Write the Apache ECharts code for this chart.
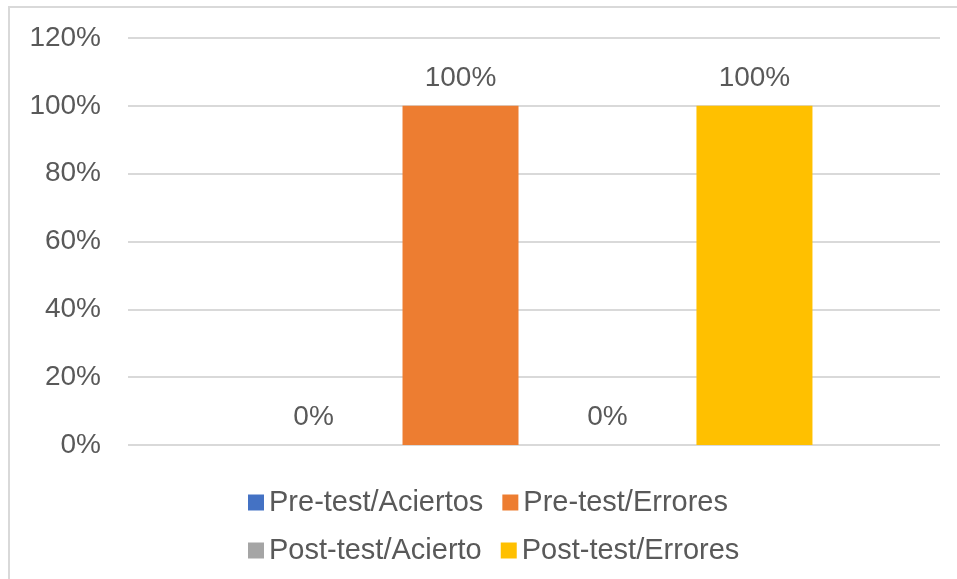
<!DOCTYPE html>
<html>
<head>
<meta charset="utf-8">
<script src="https://cdn.jsdelivr.net/npm/echarts@6/dist/echarts.min.js"></script>
<style>
  html, body { margin: 0; padding: 0; background: #fff; }
  #chart { width: 957px; height: 579px; }
</style>
</head>
<body>
<div id="chart"></div>
<script>
// One unnamed category, four series (percent of answers)
const categories = [''];
const seriesNames = ['Pre-test/Aciertos', 'Pre-test/Errores', 'Post-test/Acierto', 'Post-test/Errores'];
const seriesValues = [[0], [100], [0], [100]];
const seriesColors = ['#4472C4', '#ED7D31', '#A5A5A5', '#FFC000'];
const yTicks = { min: 0, max: 120, interval: 20 };

const textColor = '#595959';
const fontFamily = 'Liberation Sans, Arial, sans-serif';

const chart = echarts.init(document.getElementById('chart'), null, { renderer: 'canvas' });

chart.setOption({
  animation: false,
  backgroundColor: '#fff',
  textStyle: { fontFamily: fontFamily },
  grid: { left: 128, right: 17, top: 38, bottom: 134, containLabel: false },
  graphic: [{
    type: 'rect',
    shape: { x: 9, y: 7, width: 1200, height: 1200 },
    style: { fill: 'none', stroke: '#D9D9D9', lineWidth: 2 },
    silent: true
  }],
  legend: {
    data: seriesNames,
    left: 243,
    top: 483,
    width: 520,
    itemWidth: 16,
    itemHeight: 16,
    itemGap: 19,
    icon: 'rect',
    textStyle: { color: textColor, fontSize: 29, lineHeight: 29, fontFamily: fontFamily }
  },
  xAxis: {
    type: 'category',
    data: categories,
    axisLine: { show: false },
    axisTick: { show: false },
    axisLabel: { show: false }
  },
  yAxis: {
    type: 'value',
    min: yTicks.min,
    max: yTicks.max,
    interval: yTicks.interval,
    axisLine: { show: false },
    axisTick: { show: false },
    axisLabel: {
      formatter: '{value}%',
      color: textColor,
      fontSize: 28,
      margin: 27,
      fontFamily: fontFamily
    },
    splitLine: { lineStyle: { color: '#D9D9D9', width: 2 } }
  },
  series: seriesNames.map((name, i) => ({
    name: name,
    type: 'bar',
    data: seriesValues[i],
    barWidth: 116,
    barGap: '26.7%',
    itemStyle: { color: seriesColors[i] },
    label: {
      show: true,
      position: 'top',
      distance: 14,
      formatter: '{c}%',
      color: textColor,
      fontSize: 28,
      fontFamily: fontFamily
    }
  }))
});
</script>
</body>
</html>
